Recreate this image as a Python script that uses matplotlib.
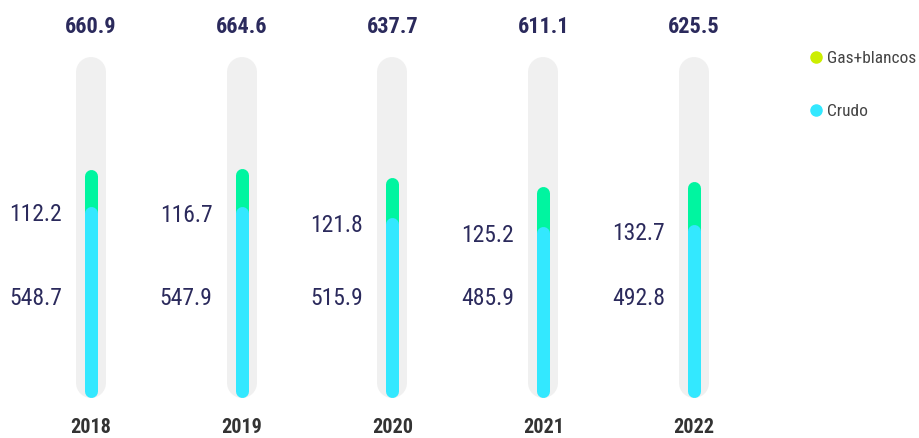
import matplotlib
matplotlib.use("Agg")
import matplotlib.pyplot as plt
import matplotlib.transforms as mtransforms
from matplotlib.lines import Line2D
from matplotlib import font_manager

years = ["2018", "2019", "2020", "2021", "2022"]
crudo = [548.7, 547.9, 515.9, 485.9, 492.8]
gas_blancos = [112.2, 116.7, 121.8, 125.2, 132.7]
totals = [660.9, 664.6, 637.7, 611.1, 625.5]

# colores
c_bg = "#f0f0f0"
c_gas = "#00f5a0"
c_gas_legend = "#ccee00"
c_crudo = "#33e8ff"
c_text = "#2b2a5c"
c_year = "#333333"

# buscar una fuente estrecha si hay alguna
names = {f.name for f in font_manager.fontManager.ttflist}
narrow = "DejaVu Sans"
for cand in ["Roboto Condensed", "Liberation Sans Narrow", "Open Sans Condensed"]:
    if cand in names:
        narrow = cand
        break

fig = plt.figure(figsize=(9.19, 4.38), dpi=100)
ax = fig.add_axes([0, 0, 1, 1])
ax.set_xlim(-0.6036, 5.4925)
ax.set_ylim(-144.8, 1204.6)
ax.axis("off")

top_trans = mtransforms.blended_transform_factory(ax.transData, ax.transAxes)

for i, year in enumerate(years):
    # fondo tipo píldora
    ax.plot([i, i], [25, 983], color=c_bg, lw=21.6, solid_capstyle="round", zorder=1)
    total = crudo[i] + gas_blancos[i]
    ax.plot([i, i], [crudo[i], total], color=c_gas, lw=9.36, solid_capstyle="round", zorder=2)
    ax.plot([i, i], [0, crudo[i]], color=c_crudo, lw=9.36, solid_capstyle="round", zorder=3)

    ax.text(i, 0.938, f"{totals[i]:.1f}", transform=top_trans, ha="center", va="center",
            fontsize=16, fontweight="bold", color=c_text, family=narrow)
    ax.text(i, 0.023, year, transform=top_trans, ha="center", va="center",
            fontsize=14.5, fontweight="bold", color=c_year, family=narrow)
    ax.annotate(f"{gas_blancos[i]:.1f}", (i, crudo[i]), xytext=(-21, -1.5), textcoords="offset points",
                ha="right", va="center", fontsize=17, color=c_text, family=narrow)
    ax.annotate(f"{crudo[i]:.1f}", (i, 0.3196), xycoords=top_trans, xytext=(-21, 0),
                textcoords="offset points", ha="right", va="center", fontsize=17,
                color=c_text, family=narrow)

handles = [
    Line2D([], [], marker="o", ls="", markersize=8, color=c_gas_legend, label="Gas+blancos"),
    Line2D([], [], marker="o", ls="", markersize=8, color=c_crudo, label="Crudo"),
]
fig.legend(handles=handles, loc="upper left", bbox_to_anchor=(0.862, 0.92), frameon=False,
           handletextpad=0.1, labelspacing=2.2, handlelength=1.0,
           prop={"family": narrow, "size": 12.5}, labelcolor="#444444")

fig.savefig("out.png", dpi=100)
